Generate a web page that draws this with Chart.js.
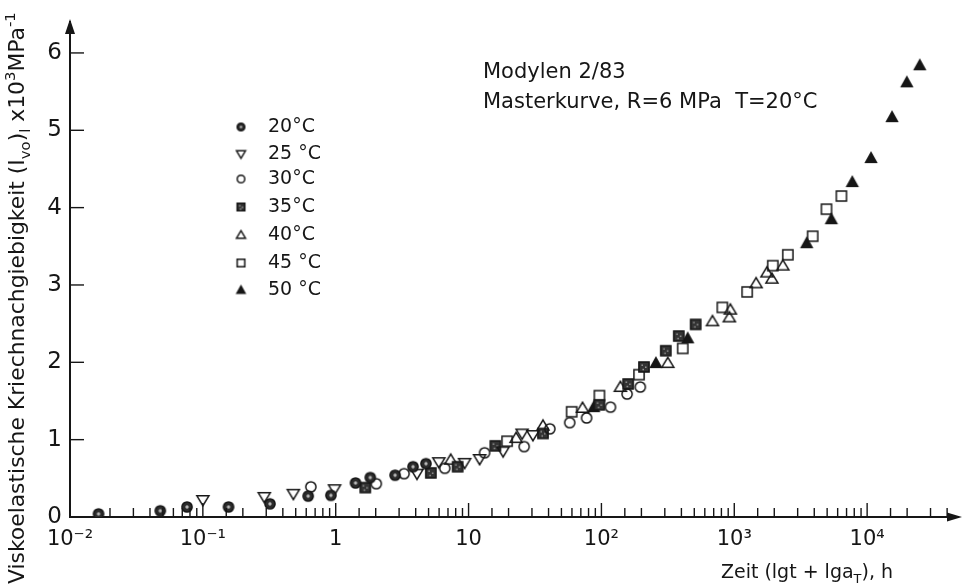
<!DOCTYPE html>
<html>
<head>
<meta charset="utf-8">
<script src="https://cdn.jsdelivr.net/npm/chart.js@4.4.1/dist/chart.umd.min.js"></script>
<style>
  html, body { margin: 0; padding: 0; background: #fff; }
  #wrap { width: 968px; height: 588px; }
</style>
</head>
<body>
<div id="wrap"><canvas id="kriechChart" width="968" height="588"></canvas></div>
<script>
// ========== DATA (read off the Masterkurve) ==========
// time in h (shifted to 20 °C), compliance in 10^-3 MPa^-1
const t20Time = [0.0164, 0.0478, 0.076, 0.156, 0.32, 0.62, 0.92, 1.41, 1.82, 2.8, 3.82, 4.78];
const t20Comp = [0.04, 0.08, 0.13, 0.13, 0.17, 0.27, 0.28, 0.44, 0.51, 0.54, 0.65, 0.69];

const t25Time = [0.1, 0.29, 0.48, 0.98, 4.09, 5.97, 9.33, 12.1, 18.2, 25.3, 30.5];
const t25Comp = [0.22, 0.26, 0.30, 0.36, 0.56, 0.71, 0.70, 0.75, 0.85, 1.08, 1.06];

const t30Time = [0.65, 2.02, 3.27, 6.62, 13.2, 26.2, 40.9, 57.7, 77.3, 117, 156, 196];
const t30Comp = [0.39, 0.43, 0.56, 0.63, 0.83, 0.91, 1.14, 1.22, 1.28, 1.42, 1.59, 1.68];

const t35Time = [1.67, 5.2, 8.28, 15.9, 36.3, 96.6, 159, 209, 305, 382, 512];
const t35Comp = [0.38, 0.57, 0.65, 0.92, 1.08, 1.45, 1.72, 1.94, 2.15, 2.34, 2.49];

const t40Time = [7.34, 22.8, 36.3, 72.1, 139, 316, 685, 918, 934, 1460, 1760, 1920, 2320];
const t40Comp = [0.74, 1.02, 1.18, 1.41, 1.68, 1.99, 2.53, 2.58, 2.68, 3.02, 3.16, 3.08, 3.25];

const t45Time = [19.5, 59.7, 96.6, 192, 409, 813, 1250, 1950, 2530, 3890, 4940, 6400];
const t45Comp = [0.98, 1.36, 1.57, 1.84, 2.18, 2.71, 2.91, 3.25, 3.39, 3.63, 3.98, 4.15];

const t50Time = [87.5, 257, 446, 3510, 5380, 7730, 10700, 15400, 19900, 24900];
const t50Comp = [1.42, 1.99, 2.31, 3.54, 3.85, 4.33, 4.64, 5.17, 5.62, 5.84];

const legendLabels = ['20°C', '25 °C', '30°C', '35°C', '40°C', '45 °C', '50 °C'];
const markerKinds = ['dotCircle', 'triDown', 'circle', 'hatchSquare', 'triUp', 'square', 'triFill'];

const yTickValues = [0, 1, 2, 3, 4, 5, 6];
const xTickValues = [0.01, 0.1, 1, 10, 100, 1000, 10000];
const xTickLabels = ['10\u207B\u00B2', '10\u207B\u00B9', '1', '10', '10\u00B2', '10\u00B3', '10\u2074'];

const noteLines = ['Modylen 2/83', 'Masterkurve, R=6 MPa  T=20°C'];

const INK = '#161616';
const FONT = "'DejaVu Sans', 'Liberation Sans', sans-serif";

// ========== MARKERS ==========
function makeMarker(kind, s) {
  const n = Math.ceil(s + 4);
  const c = document.createElement('canvas');
  c.width = n; c.height = n;
  const g = c.getContext('2d');
  const m = n / 2, r = s / 2;
  g.strokeStyle = INK;
  g.fillStyle = INK;
  g.lineWidth = 1.5;
  g.beginPath();
  switch (kind) {
    case 'dotCircle':
      g.arc(m, m, r * 0.85, 0, Math.PI * 2);
      g.fillStyle = '#2b2b2b';
      g.fill(); g.stroke();
      g.beginPath();
      g.fillStyle = '#b8b8b8';
      g.arc(m, m, r * 0.28, 0, Math.PI * 2);
      g.fill();
      break;
    case 'triDown':
      g.moveTo(m - r, m - r * 0.7);
      g.lineTo(m + r, m - r * 0.7);
      g.lineTo(m, m + r * 0.95);
      g.closePath(); g.stroke();
      break;
    case 'circle':
      g.arc(m, m, r * 0.85, 0, Math.PI * 2);
      g.stroke();
      break;
    case 'hatchSquare': {
      const h = r * 0.85;
      g.rect(m - h, m - h, 2 * h, 2 * h);
      g.fillStyle = '#333';
      g.fill(); g.stroke();
      g.fillStyle = '#9a9a9a';
      g.fillRect(m - h * 0.5, m - h * 0.5, 1.5, 1.5);
      g.fillRect(m + h * 0.2, m - h * 0.1, 1.5, 1.5);
      g.fillRect(m - h * 0.3, m + h * 0.35, 1.5, 1.5);
      break;
    }
    case 'triUp':
      g.moveTo(m - r, m + r * 0.7);
      g.lineTo(m + r, m + r * 0.7);
      g.lineTo(m, m - r * 0.95);
      g.closePath(); g.stroke();
      break;
    case 'square': {
      const h = r * 0.85;
      g.rect(m - h, m - h, 2 * h, 2 * h);
      g.stroke();
      break;
    }
    case 'triFill':
      g.moveTo(m - r * 0.9, m + r * 0.7);
      g.lineTo(m + r * 0.9, m + r * 0.7);
      g.lineTo(m, m - r * 0.9);
      g.closePath(); g.fill(); g.stroke();
      break;
  }
  return c;
}

const series = [
  [t20Time, t20Comp], [t25Time, t25Comp], [t30Time, t30Comp], [t35Time, t35Comp],
  [t40Time, t40Comp], [t45Time, t45Comp], [t50Time, t50Comp]
];

const datasets = series.map(([xs, ys], i) => ({
  label: legendLabels[i],
  data: xs.map((x, k) => ({ x, y: ys[k] })),
  pointStyle: makeMarker(markerKinds[i], 12),
  pointRadius: 6,
  showLine: false
}));

// ========== DECORATION: inward ticks, arrows, texts, legend ==========
function drawRich(ctx, parts, x, y, size) {
  // parts: [text, mode] with mode '' | 'sub' | 'sup'
  let cx = x;
  parts.forEach(([txt, mode]) => {
    const fs = mode ? size * 0.68 : size;
    const dy = mode === 'sup' ? -size * 0.42 : mode === 'sub' ? size * 0.28 : 0;
    ctx.font = fs + 'px ' + FONT;
    ctx.fillText(txt, cx, y + dy);
    cx += ctx.measureText(txt).width;
  });
  return cx - x;
}
function richWidth(ctx, parts, size) {
  let w = 0;
  parts.forEach(([txt, mode]) => {
    ctx.font = (mode ? size * 0.68 : size) + 'px ' + FONT;
    w += ctx.measureText(txt).width;
  });
  return w;
}

const decor = {
  id: 'decor',
  afterDraw(chart) {
    const { ctx, chartArea: a, scales: { x, y } } = chart;
    ctx.save();
    ctx.strokeStyle = INK;
    ctx.fillStyle = INK;
    ctx.lineWidth = 1.4;

    // x ticks, pointing up into the plot
    x.ticks.forEach(t => {
      if (t.value >= x.max) return;
      const lg = Math.log10(t.value);
      const major = Math.abs(lg - Math.round(lg)) < 1e-9;
      const px = x.getPixelForValue(t.value);
      ctx.beginPath();
      ctx.moveTo(px, a.bottom);
      ctx.lineTo(px, a.bottom - (major ? 14 : 9));
      ctx.stroke();
    });
    // y ticks, pointing right
    yTickValues.forEach(v => {
      if (v === 0) return;
      const py = y.getPixelForValue(v);
      ctx.beginPath();
      ctx.moveTo(a.left, py);
      ctx.lineTo(a.left + 14, py);
      ctx.stroke();
    });

    // arrow heads
    ctx.beginPath();
    ctx.moveTo(a.left, a.top - 3);
    ctx.lineTo(a.left - 5, a.top + 12);
    ctx.lineTo(a.left + 5, a.top + 12);
    ctx.closePath(); ctx.fill();
    ctx.beginPath();
    ctx.moveTo(a.right + 4, a.bottom);
    ctx.lineTo(a.right - 11, a.bottom - 4.5);
    ctx.lineTo(a.right - 11, a.bottom + 4.5);
    ctx.closePath(); ctx.fill();

    // note text
    ctx.textBaseline = 'middle';
    ctx.textAlign = 'left';
    ctx.font = '21px ' + FONT;
    ctx.fillText(noteLines[0], 483, 73);
    ctx.fillText(noteLines[1], 483, 103);

    // legend
    const rows = [127, 154, 179, 207, 235, 263, 290];
    legendLabels.forEach((lab, i) => {
      const mk = makeMarker(markerKinds[i], 9);
      ctx.drawImage(mk, 241 - mk.width / 2, rows[i] - mk.height / 2);
      ctx.font = '19px ' + FONT;
      ctx.fillText(lab, 268, rows[i]);
    });

    // x-axis title, right aligned
    const xt = [['Zeit (lgt + lga', ''], ['T', 'sub'], ['), h', '']];
    const xw = richWidth(ctx, xt, 19);
    ctx.textBaseline = 'alphabetic';
    drawRich(ctx, xt, 893 - xw, 578, 19);

    // y-axis title, rotated, stretched over the full height like the original
    const yt = [['Viskoelastische Kriechnachgiebigkeit (I', ''], ['vo', 'sub'], [')', ''], ['l', 'sub'],
                [' x10', ''], ['3', 'sup'], ['MPa', ''], ['-1', 'sup']];
    const ySize = 19 * 572 / richWidth(ctx, yt, 19);
    ctx.translate(24, 584);
    ctx.rotate(-Math.PI / 2);
    drawRich(ctx, yt, 0, 0, ySize);
    ctx.restore();
  }
};

new Chart(document.getElementById('kriechChart').getContext('2d'), {
  type: 'scatter',
  data: { datasets },
  options: {
    responsive: false,
    animation: false,
    layout: { padding: { left: 0, right: 5, top: 22, bottom: 0 } },
    plugins: {
      legend: { display: false },
      tooltip: { enabled: false }
    },
    scales: {
      x: {
        type: 'logarithmic',
        min: 0.01,
        max: 48300,
        grid: { display: false, drawTicks: false },
        border: { color: INK, width: 2 },
        ticks: {
          autoSkip: false,
          maxRotation: 0,
          padding: 10,
          color: INK,
          font: { family: FONT, size: 21 },
          callback: v => {
            const i = xTickValues.findIndex(d => Math.abs(d - v) / d < 1e-6);
            return i >= 0 ? xTickLabels[i] : '';
          }
        },
        afterFit: s => { s.height = 71; }
      },
      y: {
        min: 0,
        max: 6.4,
        grid: { display: false, drawTicks: false },
        border: { color: INK, width: 2 },
        ticks: {
          stepSize: 1,
          padding: 8,
          color: INK,
          font: { family: FONT, size: 23 },
          callback: v => (yTickValues.includes(v) ? String(v) : '')
        },
        afterFit: s => { s.width = 70; }
      }
    }
  },
  plugins: [decor]
});
</script>
</body>
</html>
